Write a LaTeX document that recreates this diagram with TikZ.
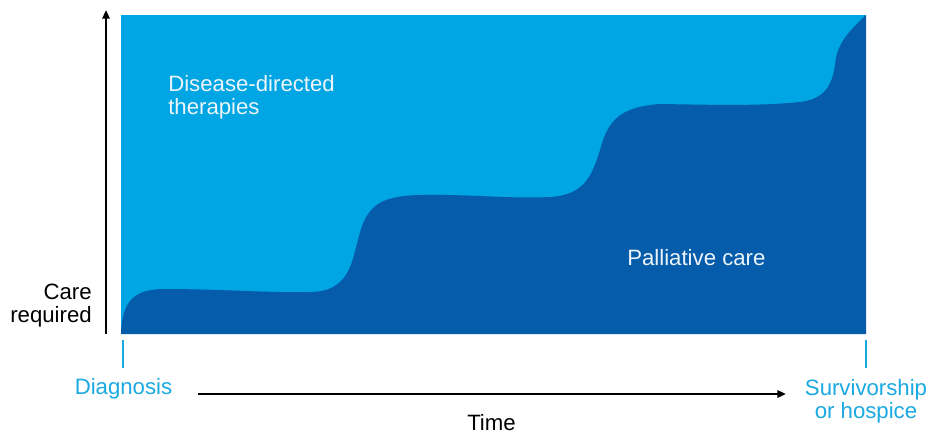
\documentclass[tikz,border=0pt]{standalone}
\usepackage{fontspec}
\setmainfont{Liberation Sans}
\usetikzlibrary{arrows.meta}
\definecolor{skyfill}{RGB}{0,166,227}
\definecolor{navyfill}{RGB}{5,92,170}
\definecolor{labelcyan}{RGB}{27,169,225}
\definecolor{softwhite}{RGB}{236,244,250}
\begin{document}
\begin{tikzpicture}[x=0.75pt,y=-0.75pt,
  txt/.style={font=\fontsize{16.65}{17.6}\selectfont, inner sep=0pt},
  axisarrow/.style={line width=1.6pt, -{Triangle[length=6.5pt,width=5.5pt]}},
  tickline/.style={labelcyan, line width=1.1pt},
]
\useasboundingbox (0,0) rectangle (930,433);
\fill[white] (0,0) rectangle (930,433);

% care areas: disease-directed (background) and palliative (stepped front)
\fill[skyfill] (121,15) rectangle (866,334);
\fill[navyfill] (121,334)
  .. controls (122,300) and (135,289) .. (165,289)
  .. controls (220,289) and (270,293) .. (310,292)
  .. controls (350,292) and (352,260) .. (358,240)
  .. controls (366,205) and (380,196) .. (420,195)
  .. controls (470,194) and (510,199) .. (550,197)
  .. controls (585,195) and (592,175) .. (600,150)
  .. controls (608,120) and (620,107) .. (660,104)
  .. controls (720,105) and (760,106) .. (800,102)
  .. controls (825,99) and (832,85) .. (835,65)
  .. controls (837,45) and (845,35) .. (866,15)
  -- (866,334) -- cycle;

% axes
\coordinate (yfoot) at (106,334);
\coordinate (yhead) at (106,10);
\draw[axisarrow] (yfoot) -- (yhead);
\coordinate (tstart) at (198,394);
\coordinate (tend) at (786,394);
\draw[axisarrow] (tstart) -- (tend);

% start and end ticks
\coordinate (dtop) at (123,340);
\coordinate (dbot) at (123,368);
\coordinate (stop) at (866,340);
\coordinate (sbot) at (866,368);
\draw[tickline] (dtop) -- (dbot);
\draw[tickline] (stop) -- (sbot);

% labels (base anchor of a multi-line node sits on its last line)
\node[txt, text=softwhite, align=left, anchor=base west] (ddt) at (168,114.5) {Disease-directed\\therapies};
\node[txt, text=softwhite, anchor=base west] (pal) at (627,265) {Palliative care};
\node[txt, align=right, anchor=base east] (care) at (92,322.5) {Care\\required};
\node[txt, text=labelcyan, anchor=base] (diag) at (123.5,394) {Diagnosis};
\node[txt, text=labelcyan, align=center, anchor=base] (surv) at (866,418.5) {Survivorship\\or hospice};
\node[txt, anchor=base] (time) at (491.5,430) {Time};
\end{tikzpicture}
\end{document}
